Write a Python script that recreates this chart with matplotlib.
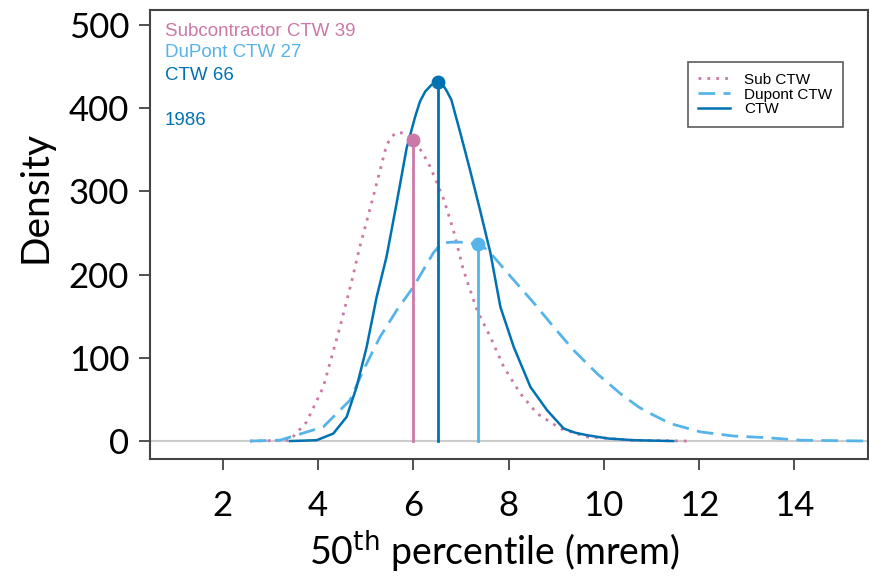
import numpy as np
import matplotlib as mpl
mpl.use("Agg")
import matplotlib.pyplot as plt

# Density curves (x = 50th percentile in mrem)
sub_x = [2.57, 3.41, 3.76, 4.11, 4.46, 4.71, 4.88, 5.16, 5.44, 5.55, 5.65, 5.8,
         6.0, 6.2, 6.35, 6.5, 6.63, 6.84, 7.05, 7.34, 7.62, 7.90, 8.25, 8.6,
         9.09, 9.65, 10.6, 11.75]
sub_y = [0, 1, 23, 65, 137, 193, 234, 294, 356, 366, 371, 370,
         362, 346, 330, 310, 292, 254, 206, 157, 125, 89, 57, 33,
         15, 5, 1, 0]

dup_x = [2.57, 3.2, 4.11, 4.67, 4.95, 5.30, 5.65, 6.0, 6.42, 6.6, 6.8, 7.0,
         7.2, 7.34, 7.5, 7.62, 8.04, 8.53, 8.95, 9.37, 9.86, 10.35, 10.73, 10.98,
         11.40, 12.03, 12.73, 13.43, 14.13, 15.53]
dup_y = [0, 1, 17, 49, 85, 125, 157, 185, 226, 238, 239, 239,
         238, 236, 232, 226, 198, 166, 137, 109, 81, 57, 41, 33,
         21, 11, 6, 4, 1, 0]

ctw_x = [3.41, 3.97, 4.32, 4.60, 4.81, 5.02, 5.23, 5.44, 5.65, 5.86, 6.04, 6.14,
         6.25, 6.38, 6.51, 6.62, 6.7, 6.8, 6.98, 7.19, 7.40, 7.62, 7.83, 8.11,
         8.46, 8.81, 9.16, 9.4, 9.65, 10.1, 10.63, 11.46]
ctw_y = [0, 1, 9, 29, 65, 113, 173, 222, 286, 352, 390, 408,
         420, 428, 431, 428, 421, 410, 372, 326, 278, 226, 161, 113,
         65, 37, 15, 10, 7, 3, 1, 0]

# medians marked with a dot + drop line
sub_med, sub_med_y = 6.0, 362
dup_med, dup_med_y = 7.35, 237
ctw_med, ctw_med_y = 6.51, 431

c_sub = "#CC79A7"
c_dup = "#56B4E9"
c_ctw = "#0072B2"

fig = plt.figure(figsize=(8.7, 5.76), dpi=100)
ax = fig.add_axes([0.1724, 0.2031, 0.8253, 0.7795])

ax.axhline(0, color="#cccccc", lw=1.5, zorder=1)

ax.plot(sub_x, sub_y, color=c_sub, lw=2, ls=(0, (1, 2.2)), label="Sub CTW")
ax.plot(dup_x, dup_y, color=c_dup, lw=2, ls=(0, (6, 3)), label="Dupont CTW")
ax.plot(ctw_x, ctw_y, color=c_ctw, lw=1.8, label="CTW")

for m, my, c in [(sub_med, sub_med_y, c_sub), (dup_med, dup_med_y, c_dup),
                 (ctw_med, ctw_med_y, c_ctw)]:
    ax.plot([m, m], [0, my], color=c, lw=2)
    ax.plot(m, my, "o", color=c, ms=9)

tfont = dict(family="Liberation Sans", fontsize=13.5)
ax.text(0.021, 0.953, "Subcontractor CTW 39", color=c_sub, transform=ax.transAxes, va="center", **tfont)
ax.text(0.021, 0.906, "DuPont CTW 27", color=c_dup, transform=ax.transAxes, va="center", **tfont)
ax.text(0.021, 0.855, "CTW 66", color=c_ctw, transform=ax.transAxes, va="center", **tfont)
ax.text(0.021, 0.755, "1986", color=c_ctw, transform=ax.transAxes, va="center", **tfont)

leg = ax.legend(loc="upper right", bbox_to_anchor=(0.965, 0.884),
                prop=dict(family="Liberation Sans", size=11), fancybox=False,
                handlelength=2.1, labelspacing=0.05, borderpad=0.7, handletextpad=0.9,
                borderaxespad=0)
leg.get_frame().set_edgecolor("#333333")
leg.get_frame().set_linewidth(1.2)

ax.set_xlim(0.47, 15.55)
ax.set_ylim(-21.6, 518)
ax.set_xticks([2, 4, 6, 8, 10, 12, 14])
ax.set_yticks([0, 100, 200, 300, 400, 500])

big = "Lato"
for lab in ax.get_xticklabels() + ax.get_yticklabels():
    lab.set_family(big)
    lab.set_fontsize(25)
ax.tick_params(direction="out", length=8, width=1.2, color="#333333")
ax.tick_params(axis="y", pad=7)
ax.tick_params(axis="x", pad=14)
for sp in ax.spines.values():
    sp.set_color("#444444")
    sp.set_linewidth(1.5)

ax.set_xlabel(r"50$^{\rm th}$ percentile (mrem)", fontsize=27, family=big)
ax.xaxis.set_label_coords(0.48, -0.155, transform=ax.transAxes)
ax.set_ylabel("Density", fontsize=28, family=big)
ax.yaxis.set_label_coords(-0.135, 0.583, transform=ax.transAxes)

fig.savefig("out.png", dpi=100)
